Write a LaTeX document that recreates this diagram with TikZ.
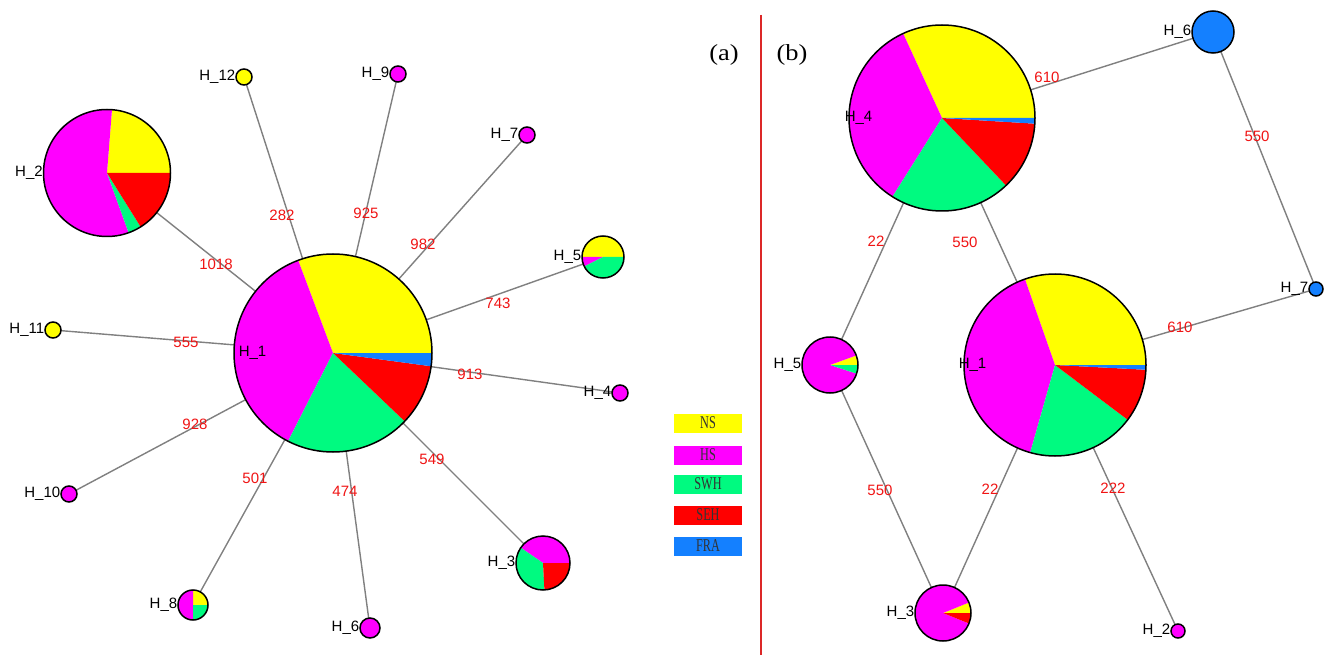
\documentclass[tikz,border=0pt]{standalone}
\usepackage{fontspec}
\setmainfont{Liberation Sans}
\newfontfamily\seriff{Liberation Serif}
\newfontfamily\legf[FakeStretch=0.68]{Liberation Serif}
\newfontfamily\panf[FakeStretch=1.15]{Liberation Serif}
\definecolor{cNS}{RGB}{255,255,0}
\definecolor{cHS}{RGB}{255,0,255}
\definecolor{cSWH}{RGB}{0,250,128}
\definecolor{cSEH}{RGB}{255,0,0}
\definecolor{cFRA}{RGB}{20,128,255}
\definecolor{cedge}{RGB}{128,128,128}
\definecolor{clab}{RGB}{240,20,20}
\definecolor{cdiv}{RGB}{220,40,40}
\newcommand{\pieslice}[5]{\fill[#1] (#2.center) -- ++(#3:#5) arc[start angle=#3, end angle=#4, radius=#5] -- cycle;}
\begin{document}
\begin{tikzpicture}[x=1pt,y=1pt,
  hnode/.style={circle, inner sep=0pt, outer sep=0pt},
  edge/.style={draw=cedge, line width=1.4pt},
  outline/.style={draw=black, line width=1.5pt},
  hlab/.style={font=\fontsize{15}{17}\selectfont, text=black, inner sep=0.6pt},
  elab/.style={font=\fontsize{15}{17}\selectfont, text=clab, inner sep=0pt},
  legbox/.style={minimum width=68pt, minimum height=19pt, inner sep=0pt, font=\legf\fontsize{18}{18}\selectfont, text=black!80},
  panlab/.style={font=\panf\fontsize{23}{25}\selectfont, text=black}]
\useasboundingbox (0,0) rectangle (1331,-655);
\fill[white] (0,0) rectangle (1331,-655);
% ---- nodes panel (a)
\node[hnode, minimum size=198pt] (h1) at (333,-353) {};
\node[hnode, minimum size=127pt] (h2) at (107,-173) {};
\node[hnode, minimum size=16pt] (h12) at (244,-77) {};
\node[hnode, minimum size=16pt] (h9) at (398,-74) {};
\node[hnode, minimum size=16pt] (h7) at (527,-135) {};
\node[hnode, minimum size=42pt] (h5) at (603,-257) {};
\node[hnode, minimum size=16pt] (h11) at (53,-330) {};
\node[hnode, minimum size=16pt] (h4) at (620,-393) {};
\node[hnode, minimum size=16pt] (h10) at (69,-494) {};
\node[hnode, minimum size=30pt] (h8) at (193,-605) {};
\node[hnode, minimum size=20pt] (h6) at (370,-628) {};
\node[hnode, minimum size=54pt] (h3) at (543,-563) {};
% ---- nodes panel (b)
\node[hnode, minimum size=182pt] (r1) at (1055,-365) {};
\node[hnode, minimum size=186pt] (r4) at (942,-118) {};
\node[hnode, minimum size=42pt] (r6) at (1213,-32) {};
\node[hnode, minimum size=14pt] (r7) at (1316,-289) {};
\node[hnode, minimum size=56pt] (r5) at (830,-365) {};
\node[hnode, minimum size=56pt] (r3) at (943,-613) {};
\node[hnode, minimum size=14pt] (r2) at (1178,-631) {};
% ---- edges
\foreach \t in {h2,h12,h9,h7,h5,h11,h4,h10,h8,h6,h3} {\draw[edge] (h1) -- (\t);}
\draw[edge] (r4) -- (r6);
\draw[edge] (r6) -- (r7);
\draw[edge] (r4) -- (r1);
\draw[edge] (r4) -- (r5);
\draw[edge] (r1) -- (r7);
\draw[edge] (r5) -- (r3);
\draw[edge] (r1) -- (r3);
\draw[edge] (r1) -- (r2);
% ---- pies panel (a)
\pieslice{cNS}{h1}{0}{110.6}{99}
\pieslice{cHS}{h1}{110.6}{243}{99}
\pieslice{cSWH}{h1}{243}{316.4}{99}
\pieslice{cSEH}{h1}{316.4}{352.3}{99}
\pieslice{cFRA}{h1}{352.3}{360}{99}
\draw[outline] (h1.center) circle[radius=99];
\pieslice{cNS}{h2}{0}{85.5}{63.5}
\pieslice{cHS}{h2}{85.5}{289.9}{63.5}
\pieslice{cSWH}{h2}{289.9}{302}{63.5}
\pieslice{cSEH}{h2}{302}{360}{63.5}
\draw[outline] (h2.center) circle[radius=63.5];
\pieslice{cNS}{h5}{0}{180}{21}
\pieslice{cHS}{h5}{180}{206.6}{21}
\pieslice{cSWH}{h5}{206.6}{360}{21}
\draw[outline] (h5.center) circle[radius=21];
\pieslice{cNS}{h8}{0}{90}{15}
\pieslice{cHS}{h8}{90}{270}{15}
\pieslice{cSWH}{h8}{270}{360}{15}
\draw[outline] (h8.center) circle[radius=15];
\pieslice{cHS}{h3}{0}{145.5}{27}
\pieslice{cSWH}{h3}{145.5}{273}{27}
\pieslice{cSEH}{h3}{273}{360}{27}
\draw[outline] (h3.center) circle[radius=27];
\foreach \t/\c/\r in {h12/cNS/8,h9/cHS/8,h7/cHS/8,h11/cNS/8,h4/cHS/8,h10/cHS/8,h6/cHS/10} {
  \fill[\c] (\t.center) circle[radius=\r];
  \draw[outline] (\t.center) circle[radius=\r];
}
% ---- pies panel (b)
\pieslice{cNS}{r1}{0}{109.3}{91}
\pieslice{cHS}{r1}{109.3}{254.2}{91}
\pieslice{cSWH}{r1}{254.2}{323}{91}
\pieslice{cSEH}{r1}{323}{357}{91}
\pieslice{cFRA}{r1}{357}{360}{91}
\draw[outline] (r1.center) circle[radius=91];
\pieslice{cNS}{r4}{0}{114.7}{93}
\pieslice{cHS}{r4}{114.7}{237.8}{93}
\pieslice{cSWH}{r4}{237.8}{313.5}{93}
\pieslice{cSEH}{r4}{313.5}{356.5}{93}
\pieslice{cFRA}{r4}{356.5}{360}{93}
\draw[outline] (r4.center) circle[radius=93];
\pieslice{cNS}{r5}{0}{20}{28}
\pieslice{cHS}{r5}{20}{342}{28}
\pieslice{cSWH}{r5}{342}{360}{28}
\draw[outline] (r5.center) circle[radius=28];
\pieslice{cNS}{r3}{0}{22}{28}
\pieslice{cHS}{r3}{22}{338}{28}
\pieslice{cSEH}{r3}{338}{360}{28}
\draw[outline] (r3.center) circle[radius=28];
\foreach \t/\c/\r in {r6/cFRA/21,r7/cFRA/7,r2/cHS/7} {
  \fill[\c] (\t.center) circle[radius=\r];
  \draw[outline] (\t.center) circle[radius=\r];
}
% ---- node labels
\node[hlab, anchor=west] (lh1) at ([xshift=4pt]h1.west) {H\_1};
\foreach \t/\n in {h2/2,h12/12,h9/9,h7/7,h5/5,h11/11,h4/4,h10/10,h8/8,h6/6,h3/3} {
  \node[hlab, anchor=east] (l\t) at (\t.west) {H\_\n};
}
\node[hlab, anchor=west] (lr1) at ([xshift=-6pt]r1.west) {H\_1};
\node[hlab, anchor=west] (lr4) at ([xshift=-5pt]r4.west) {H\_4};
\foreach \t/\n in {r6/6,r7/7,r5/5,r3/3,r2/2} {
  \node[hlab, anchor=east] (l\t) at (\t.west) {H\_\n};
}
% ---- edge labels
\node[elab] (e1) at (216,-264) {1018};
\node[elab] (e2) at (282,-215) {282};
\node[elab] (e3) at (366,-213) {925};
\node[elab] (e4) at (423,-244) {982};
\node[elab] (e5) at (498,-303) {743};
\node[elab] (e6) at (186,-342) {555};
\node[elab] (e7) at (470,-374) {913};
\node[elab] (e8) at (195,-424) {928};
\node[elab] (e9) at (255,-478) {501};
\node[elab] (e10) at (345,-491) {474};
\node[elab] (e11) at (432,-459) {549};
\node[elab] (f1) at (1047,-77) {610};
\node[elab] (f2) at (1257,-136) {550};
\node[elab] (f3) at (965,-242) {550};
\node[elab] (f4) at (876,-241) {22};
\node[elab] (f5) at (1180,-327) {610};
\node[elab] (f6) at (880,-490) {550};
\node[elab] (f7) at (990,-489) {22};
\node[elab] (f8) at (1113,-488) {222};
% ---- legend
\node[legbox, fill=cNS] (gNS) at (708,-423) {NS};
\node[legbox, fill=cHS] (gHS) at (708,-455) {HS};
\node[legbox, fill=cSWH] (gSWH) at (708,-484) {SWH};
\node[legbox, fill=cSEH] (gSEH) at (708,-515) {SEH};
\node[legbox, fill=cFRA] (gFRA) at (708,-546) {FRA};
% ---- divider and panel labels
\coordinate (dtop) at (761,-15);
\coordinate (dbot) at (761,-655);
\draw[cdiv, line width=1.5pt] (dtop) -- (dbot);
\node[panlab] (pa) at (724,-55) {(a)};
\node[panlab] (pb) at (792,-55) {(b)};
\end{tikzpicture}
\end{document}
